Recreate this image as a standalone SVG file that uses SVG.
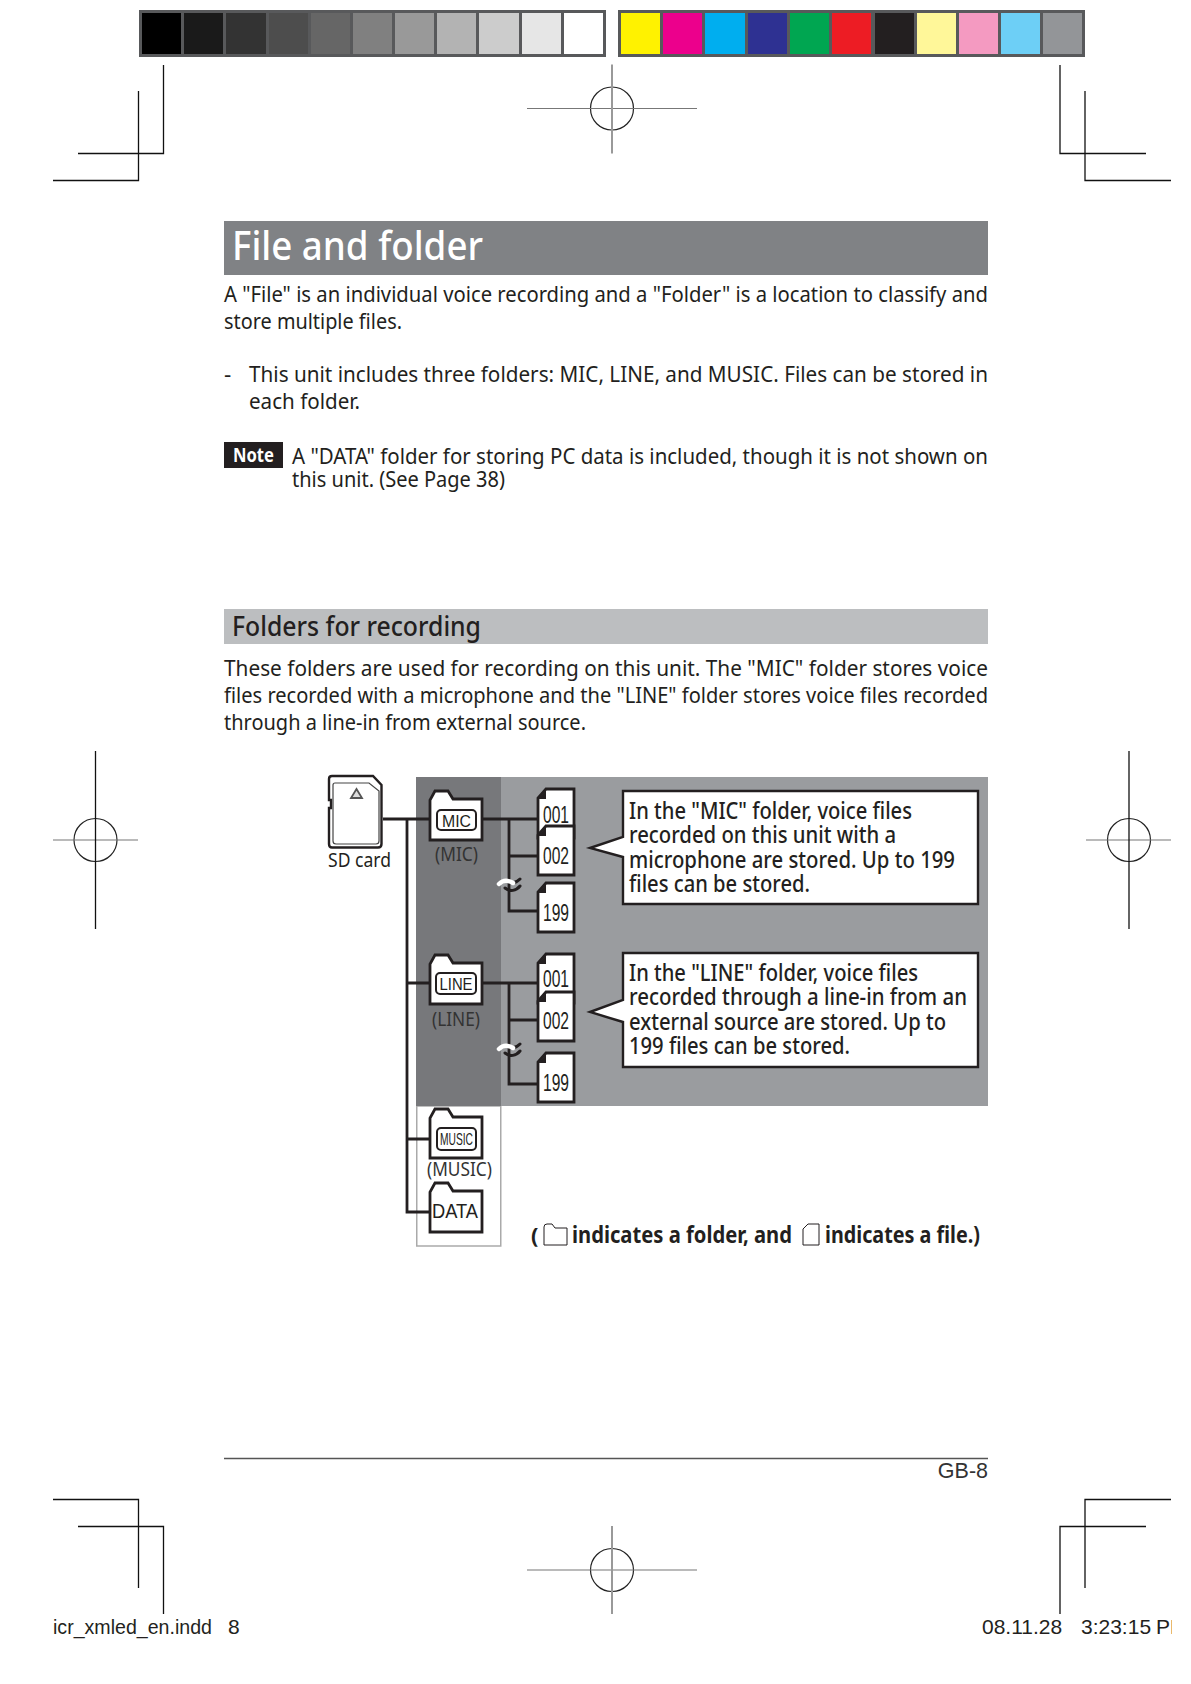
<svg xmlns="http://www.w3.org/2000/svg" width="1191" height="1684" viewBox="0 0 1191 1684">
<style>
text{font-family:"Noto Sans","Liberation Sans",sans-serif;fill:#231f20}
.b{font-size:22.500px}
.c{font-size:23px;font-weight:500}
.s{font-family:"Liberation Sans",sans-serif}
.n{font-family:"Liberation Sans",sans-serif;font-size:23px}
.p{font-family:"Liberation Sans",sans-serif;font-size:17px}
.g{font-size:20px;fill:#333}
.crop{fill:none;stroke:#111;stroke-width:1.3}
.gv{stroke:#999;stroke-width:2;fill:none}
.gh{stroke:#777;stroke-width:1.2;fill:none}
.ci{stroke:#222;stroke-width:1.2;fill:none}
.w{stroke:#231f20;stroke-width:2.8;fill:none}
.o{stroke:#231f20;stroke-width:2.8;fill:#fff}
.fold{fill:#231f20}
.pill{fill:#fff;stroke:#231f20;stroke-width:2}
</style>
<defs>
<g id="folder"><path d="M0,49V9L5,0H18L23,8H52V49Z" class="o"/></g>
<g id="file"><path d="M8,0H36V49H0V9Z" class="o"/><path d="M8,1V10H0.500Z" class="fold"/></g>
<g id="target"><circle r="21.5" class="ci"/></g>
<clipPath id="page-clip"><rect x="0" y="1600" width="1172" height="84"/></clipPath>
</defs>

<g id="color-bars">
<rect x="139" y="10" width="467" height="47" fill="#58595b"/>
<rect x="142" y="13" width="39" height="41" fill="#000"/>
<rect x="184" y="13" width="39" height="41" fill="#1a1a1a"/>
<rect x="226" y="13" width="40" height="41" fill="#333"/>
<rect x="269" y="13" width="39" height="41" fill="#4d4d4d"/>
<rect x="311" y="13" width="39" height="41" fill="#666"/>
<rect x="353" y="13" width="39" height="41" fill="#808080"/>
<rect x="395" y="13" width="39" height="41" fill="#999"/>
<rect x="437" y="13" width="39" height="41" fill="#b3b3b3"/>
<rect x="479" y="13" width="40" height="41" fill="#ccc"/>
<rect x="522" y="13" width="39" height="41" fill="#e6e6e6"/>
<rect x="564" y="13" width="39" height="41" fill="#fff"/>
<rect x="618" y="10" width="467" height="47" fill="#58595b"/>
<rect x="621" y="13" width="39" height="41" fill="#fff200"/>
<rect x="663" y="13" width="39" height="41" fill="#ec008c"/>
<rect x="705" y="13" width="40" height="41" fill="#00aeef"/>
<rect x="748" y="13" width="39" height="41" fill="#2e3192"/>
<rect x="790" y="13" width="39" height="41" fill="#00a651"/>
<rect x="832" y="13" width="39" height="41" fill="#ed1c24"/>
<rect x="875" y="13" width="39" height="41" fill="#231f20"/>
<rect x="917" y="13" width="39" height="41" fill="#fff799"/>
<rect x="959" y="13" width="39" height="41" fill="#f49ac1"/>
<rect x="1001" y="13" width="39" height="41" fill="#6dcff6"/>
<rect x="1043" y="13" width="39" height="41" fill="#939598"/>
</g>

<g id="crop-marks">
<path class="crop" d="M163.500,65V153.500H78M138.500,91V180.500H53"/>
<path class="crop" d="M1060,65V153.500H1146M1085,91V180.500H1171"/>
<path class="crop" d="M53,1499.500H138.500V1588M78,1526.500H163.500V1614"/>
<path class="crop" d="M1171,1499.500H1085V1588M1146,1526.500H1060V1614"/>
</g>

<g id="registration-marks">
<g transform="translate(612,108.500)"><use href="#target"/><path class="gh" d="M-85,0H85"/><path class="gv" d="M0,-44V45"/></g>
<g transform="translate(612,1570)"><use href="#target"/><path class="gh" d="M-85,0H85"/><path class="gv" d="M0,-44V44"/></g>
<g transform="translate(95.500,840)"><use href="#target"/><path class="gh" d="M-42.500,0H42.500"/><path class="crop" d="M0,-89V89"/></g>
<g transform="translate(1129,840)"><use href="#target"/><path class="gh" d="M-43,0H42"/><path class="crop" d="M0,-89V89"/></g>
</g>

<g id="heading-1">
<rect x="224" y="221" width="764" height="54" fill="#808285"/>
<text x="232" y="260" font-size="39.500" font-weight="500" style="fill:#fff" textLength="251" lengthAdjust="spacingAndGlyphs">File and folder</text>
</g>
<g id="intro">
<text class="b" x="224" y="302" textLength="764" lengthAdjust="spacingAndGlyphs">A "File" is an individual voice recording and a "Folder" is a location to classify and</text>
<text class="b" x="224" y="329" textLength="178" lengthAdjust="spacingAndGlyphs">store multiple files.</text>
<text class="b" x="224" y="382">-</text>
<text class="b" x="249" y="382" textLength="739" lengthAdjust="spacingAndGlyphs">This unit includes three folders: MIC, LINE, and MUSIC. Files can be stored in</text>
<text class="b" x="249" y="409" textLength="111" lengthAdjust="spacingAndGlyphs">each folder.</text>
</g>
<g id="note">
<rect x="224" y="442" width="59" height="26" fill="#231f20"/>
<text x="233" y="462" font-size="19" font-weight="700" style="fill:#fff" textLength="41" lengthAdjust="spacingAndGlyphs">Note</text>
<text class="b" x="292" y="464" textLength="696" lengthAdjust="spacingAndGlyphs">A "DATA" folder for storing PC data is included, though it is not shown on</text>
<text class="b" x="292" y="487" textLength="213" lengthAdjust="spacingAndGlyphs">this unit. (See Page 38)</text>
</g>
<g id="heading-2">
<rect x="224" y="609" width="764" height="35" fill="#bcbec0"/>
<text x="232" y="636" font-size="27" font-weight="500" textLength="249" lengthAdjust="spacingAndGlyphs">Folders for recording</text>
</g>
<g id="recording-text">
<text class="b" x="224" y="676" textLength="764" lengthAdjust="spacingAndGlyphs">These folders are used for recording on this unit. The "MIC" folder stores voice</text>
<text class="b" x="224" y="703" textLength="764" lengthAdjust="spacingAndGlyphs">files recorded with a microphone and the "LINE" folder stores voice files recorded</text>
<text class="b" x="224" y="730" textLength="362" lengthAdjust="spacingAndGlyphs">through a line-in from external source.</text>
</g>

<g id="panels">
<rect x="416.750" y="1106" width="84" height="140" fill="#fff" stroke="#aaa" stroke-width="1.500"/>
<rect x="416" y="777" width="572" height="329" fill="#9a9c9f"/>
<rect x="416" y="777" width="85" height="329" fill="#77787b"/>
</g>

<g id="connectors">
<path class="w" d="M383,819H430M407,819V1212H430M407,983H430M407,1139H430"/>
<path class="w" d="M482,819H538M509,819V911H538M509,856H538"/>
<path class="w" d="M482,983H538M509,983V1084H538M509,1020H538"/>
</g>
<g id="breaks" fill="none" stroke-linecap="round">
<path stroke="#231f20" stroke-width="3" d="M505,888c5,4 11,3 15,-2M508,881c4,3 8,2 12,-2"/>
<path stroke="#fff" stroke-width="4.500" d="M499,884c4,-4 9,-4 14,-1"/>
<path stroke="#231f20" stroke-width="3" d="M505,1053c5,4 11,3 15,-2M508,1046c4,3 8,2 12,-2"/>
<path stroke="#fff" stroke-width="4.500" d="M499,1049c4,-4 9,-4 14,-1"/>
</g>

<g id="sd-card">
<path d="M332,776H373L381.500,785V844Q381.500,847.500 378,847.500H332Q329,847.500 329,844V808H331V800H329V779Q329,776 332,776Z" fill="#fff" stroke="#231f20" stroke-width="2.400"/>
<path d="M335,783H369L379,791V841Q379,844 376,844H336Q333,844 333,841V785Q333,783 335,783Z" fill="#fff" stroke="#444" stroke-width="1.200"/>
<path d="M356.500,789L362,798H351Z" fill="#ddd" stroke="#555" stroke-width="1.800"/>
<text x="328" y="867" font-size="20" textLength="63" lengthAdjust="spacingAndGlyphs">SD card</text>
</g>
<g id="folder-mic">
<use href="#folder" x="430" y="791"/>
<rect class="pill" x="437" y="810" width="39" height="20" rx="4"/>
<text class="p" x="456.500" y="827" text-anchor="middle" textLength="29" lengthAdjust="spacingAndGlyphs">MIC</text>
<text class="g" x="435" y="861" textLength="43" lengthAdjust="spacingAndGlyphs">(MIC)</text>
</g>
<g id="folder-line">
<use href="#folder" x="430" y="955"/>
<rect class="pill" x="436" y="973" width="40" height="21" rx="4"/>
<text class="p" x="456" y="990" text-anchor="middle" textLength="33" lengthAdjust="spacingAndGlyphs">LINE</text>
<text class="g" x="432" y="1026" textLength="48" lengthAdjust="spacingAndGlyphs">(LINE)</text>
</g>
<g id="folder-music">
<use href="#folder" x="430" y="1109"/>
<rect class="pill" x="437" y="1128" width="39" height="22" rx="4"/>
<text class="p" x="440" y="1145" textLength="33" lengthAdjust="spacingAndGlyphs">MUSIC</text>
<text class="g" x="427" y="1176" textLength="65" lengthAdjust="spacingAndGlyphs">(MUSIC)</text>
</g>
<g id="folder-data">
<use href="#folder" x="430" y="1183"/>
<text class="n" x="432" y="1218" style="font-size:21px" textLength="46" lengthAdjust="spacingAndGlyphs">DATA</text>
</g>

<g id="files-mic">
<use href="#file" x="538" y="789"/><text class="n" x="543" y="823" textLength="26" lengthAdjust="spacingAndGlyphs">001</text>
<use href="#file" x="538" y="826"/><text class="n" x="543" y="864" textLength="26" lengthAdjust="spacingAndGlyphs">002</text>
<use href="#file" x="538" y="883"/><text class="n" x="543" y="921" textLength="26" lengthAdjust="spacingAndGlyphs">199</text>
</g>
<g id="files-line">
<use href="#file" x="538" y="954"/><text class="n" x="543" y="987" textLength="26" lengthAdjust="spacingAndGlyphs">001</text>
<use href="#file" x="538" y="992"/><text class="n" x="543" y="1029" textLength="26" lengthAdjust="spacingAndGlyphs">002</text>
<use href="#file" x="538" y="1053"/><text class="n" x="543" y="1091" textLength="26" lengthAdjust="spacingAndGlyphs">199</text>
</g>

<g id="callout-mic">
<path d="M623,791H978V904H623V857L590,848L623,837Z" fill="#fff" stroke="#231f20" stroke-width="2.400"/>
<text class="c" x="629" y="819" textLength="283" lengthAdjust="spacingAndGlyphs">In the "MIC" folder, voice files</text>
<text class="c" x="629" y="843" textLength="267" lengthAdjust="spacingAndGlyphs">recorded on this unit with a</text>
<text class="c" x="629" y="868" textLength="326" lengthAdjust="spacingAndGlyphs">microphone are stored. Up to 199</text>
<text class="c" x="629" y="892" textLength="181" lengthAdjust="spacingAndGlyphs">files can be stored.</text>
</g>
<g id="callout-line">
<path d="M623,953H978V1067H623V1022L590,1012L623,1000Z" fill="#fff" stroke="#231f20" stroke-width="2.400"/>
<text class="c" x="629" y="981" textLength="289" lengthAdjust="spacingAndGlyphs">In the "LINE" folder, voice files</text>
<text class="c" x="629" y="1005" textLength="338" lengthAdjust="spacingAndGlyphs">recorded through a line-in from an</text>
<text class="c" x="629" y="1030" textLength="317" lengthAdjust="spacingAndGlyphs">external source are stored. Up to</text>
<text class="c" x="629" y="1054" textLength="221" lengthAdjust="spacingAndGlyphs">199 files can be stored.</text>
</g>

<g id="legend">
<text x="531" y="1243" font-size="22" font-weight="700">(</text>
<path d="M544,1243V1227Q544,1224 547,1224H552L555,1228H567V1245H544Z" fill="none" stroke="#231f20" stroke-width="1"/>
<text x="572" y="1243" font-size="23" font-weight="700" textLength="220" lengthAdjust="spacingAndGlyphs">indicates a folder, and</text>
<path d="M808,1224H819V1245H803V1229Z" fill="none" stroke="#231f20" stroke-width="1"/>
<text x="825" y="1243" font-size="23" font-weight="700" textLength="155" lengthAdjust="spacingAndGlyphs">indicates a file.)</text>
</g>

<g id="footer">
<path d="M224,1458.500H988" stroke="#555" stroke-width="1.500"/>
<text class="s" x="988" y="1478" text-anchor="end" font-size="21.500" style="fill:#333">GB-8</text>
<text class="s" x="53" y="1634" font-size="20.500" textLength="159" lengthAdjust="spacingAndGlyphs">icr_xmled_en.indd</text>
<text class="s" x="228" y="1634" font-size="21">8</text>
<text class="s" x="982" y="1634" font-size="21">08.11.28</text>
<g clip-path="url(#page-clip)"><text class="s" x="1081" y="1634" font-size="21">3:23:15<tspan x="1156">PM</tspan></text></g>
</g>
</svg>
